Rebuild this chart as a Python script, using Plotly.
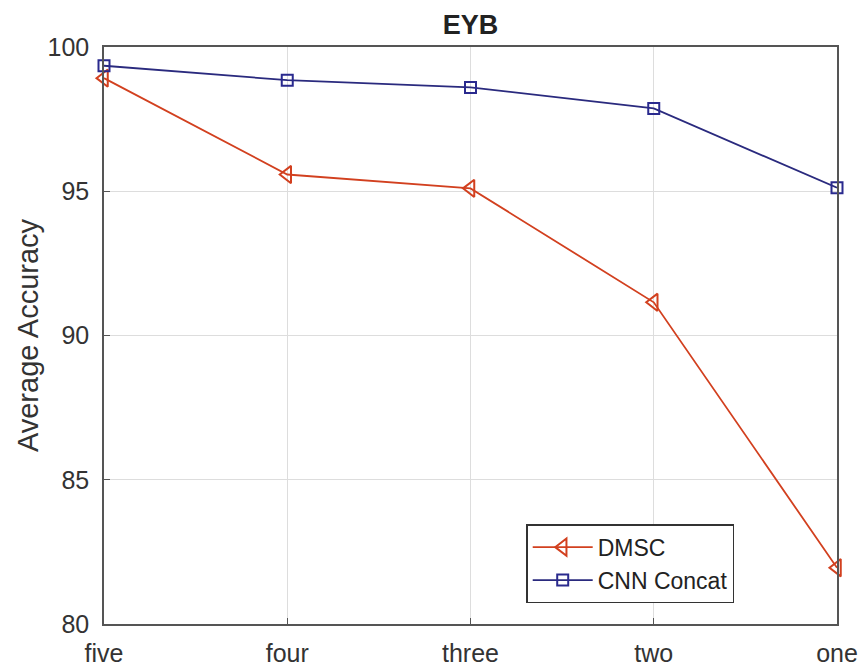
import plotly.graph_objects as go

categories = ["five", "four", "three", "two", "one"]
dmsc = [98.92, 95.58, 95.10, 91.15, 81.95]
cnn_concat = [99.35, 98.85, 98.60, 97.87, 95.12]
y_ticks = [80, 85, 90, 95, 100]

FONT = "Liberation Sans, Arial"

fig = go.Figure()
fig.add_trace(go.Scatter(
    x=categories, y=dmsc, name="DMSC", mode="lines+markers",
    line=dict(color="#d2401f", width=1.8),
    marker=dict(symbol="triangle-left-open", size=15, color="#d2401f", line=dict(width=2)),
    cliponaxis=False))
fig.add_trace(go.Scatter(
    x=categories, y=cnn_concat, name="CNN Concat", mode="lines+markers",
    line=dict(color="#2a2a7e", width=1.8),
    marker=dict(symbol="square-open", size=11, color="#2a2a8e", line=dict(width=2)),
    cliponaxis=False))

axis_common = dict(showline=True, linecolor="#555555", linewidth=1.5, mirror=True,
                   ticks="inside", ticklen=6, tickcolor="#555555",
                   showgrid=True, gridcolor="#dddddd", gridwidth=1,
                   tickfont=dict(family=FONT, size=25, color="#333333"),
                   zeroline=False, automargin=False)

fig.update_xaxes(type="category", categoryorder="array", categoryarray=categories,
                 range=[0, 4], ticklabelstandoff=6, **axis_common)
fig.update_yaxes(range=[80, 100], tickvals=y_ticks, ticklabelstandoff=8,
                 title=dict(text="Average Accuracy",
                            font=dict(family=FONT, size=29, color="#333333"),
                            standoff=0),
                 **axis_common)

fig.update_layout(
    width=864, height=669,
    margin=dict(l=104, r=27, t=47, b=45),
    paper_bgcolor="white", plot_bgcolor="white",
    title=dict(text="<b>EYB</b>", x=0.5, xref="paper", xanchor="center",
               y=1 - 25 / 669, yanchor="middle",
               font=dict(family=FONT, size=27, color="#222222")),
    legend=dict(x=0.576, y=0.173, xanchor="left", yanchor="top",
                bordercolor="#333333", borderwidth=1.5, bgcolor="white",
                font=dict(family=FONT, size=23, color="#222222"),
                itemwidth=60, tracegroupgap=0),
    showlegend=True,
)

fig.write_html("out.html")
